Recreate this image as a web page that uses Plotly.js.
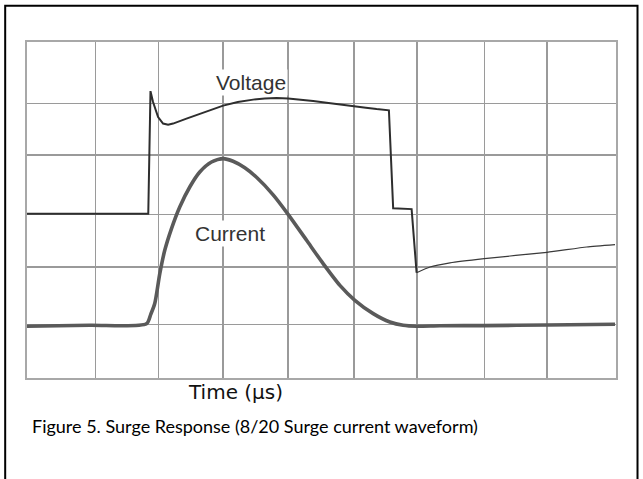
<!DOCTYPE html>
<html>
<head>
<meta charset="utf-8">
<script src="https://cdn.plot.ly/plotly-3.0.1.min.js"></script>
<style>
html,body{margin:0;padding:0;background:#fff;}
#chart{width:643px;height:479px;}
</style>
</head>
<body>
<div id="chart"></div>
<script>
// Grid positions (in divisions) as read from the scope graticule
const xGrid = [0, 1.046, 2.013, 2.997, 3.990, 4.995, 5.958, 6.987, 7.945, 9];
const yGrid = [0, 0.959, 1.982, 2.923, 3.982, 4.900, 6];

// Voltage trace (divisions)
const voltTime = [0, 1.853, 1.887, 1.926, 2.003, 2.079, 2.156, 2.232, 2.437, 2.640, 2.824, 2.997, 3.221, 3.455, 3.634, 3.813, 3.990, 4.169, 4.373, 4.577, 4.780, 4.984, 5.178, 5.342, 5.530, 5.595, 5.877, 5.953];
const voltVal  = [2.932, 2.932, 5.123, 4.929, 4.661, 4.543, 4.521, 4.543, 4.632, 4.718, 4.798, 4.864, 4.927, 4.971, 4.991, 4.998, 4.991, 4.973, 4.945, 4.917, 4.890, 4.863, 4.827, 4.802, 4.780, 3.030, 3.016, 1.879];

// Voltage recovery tail (thin line)
const tailTime = [5.953, 6.157, 6.463, 6.987, 7.945, 8.552, 8.985];
const tailVal  = [1.879, 1.982, 2.057, 2.132, 2.245, 2.339, 2.382];

// Current trace (divisions)
const currTime = [0, 0.959, 1.825, 1.891, 1.952, 2.029, 2.105, 2.208, 2.334, 2.487, 2.640, 2.819, 2.997, 3.149, 3.328, 3.507, 3.761, 3.990, 4.272, 4.525, 4.781, 5.010, 5.290, 5.545, 5.748, 5.953, 6.309, 6.987, 7.945, 8.985];
const currVal  = [0.923, 0.941, 0.968, 1.137, 1.329, 1.864, 2.280, 2.668, 3.054, 3.411, 3.679, 3.857, 3.918, 3.870, 3.754, 3.584, 3.271, 2.923, 2.459, 2.043, 1.655, 1.388, 1.150, 1.000, 0.941, 0.923, 0.932, 0.936, 0.946, 0.959];

const labels = {voltage: 'Voltage', current: 'Current', xTitle: 'Time (µs)', caption: 'Figure 5. Surge Response (8/20 Surge current waveform)'};

const L = 27.3, R = 27, T = 41.7, B = 101.3;
const W = 643, H = 479;
const pw = W - L - R, ph = H - T - B;
const px2paper = p => (p - L) / pw;
const py2paper = p => (H - B - p) / ph;

const traces = [
  {x: currTime, y: currVal, mode: 'lines', line: {color: '#5a5a5a', width: 3.6, shape: 'spline', smoothing: 0.7}, hoverinfo: 'skip'},
  {x: voltTime, y: voltVal, mode: 'lines', line: {color: '#2e2e2e', width: 2}, hoverinfo: 'skip'},
  {x: tailTime, y: tailVal, mode: 'lines', line: {color: '#3a3a3a', width: 1.2, shape: 'spline', smoothing: 0.5}, hoverinfo: 'skip'}
];

const layout = {
  width: W, height: H,
  margin: {l: L, r: R, t: T, b: B, pad: 0},
  paper_bgcolor: '#fff', plot_bgcolor: '#fff',
  showlegend: false,
  xaxis: {range: [0, 9], tickvals: xGrid, showticklabels: false, ticks: '', showgrid: true, gridcolor: '#9a9a9a', gridwidth: 1.4, zeroline: false, showline: true, mirror: true, linecolor: '#a8a8a8', linewidth: 2},
  yaxis: {range: [0, 6], tickvals: yGrid, showticklabels: false, ticks: '', showgrid: true, gridcolor: '#9a9a9a', gridwidth: 1.4, zeroline: false, showline: true, mirror: true, linecolor: '#a8a8a8', linewidth: 2},
  annotations: [
    {x: 3.42, y: 5.28, xref: 'x', yref: 'y', text: labels.voltage, showarrow: false, font: {family: 'Liberation Sans, Arial', size: 21, color: '#333'}, bgcolor: '#fff', borderpad: 1},
    {x: 3.107, y: 2.584, xref: 'x', yref: 'y', text: labels.current, showarrow: false, font: {family: 'Liberation Sans, Arial', size: 21, color: '#333'}, bgcolor: '#fff', borderpad: 1},
    {x: px2paper(236), y: py2paper(392), xref: 'paper', yref: 'paper', text: labels.xTitle, showarrow: false, xanchor: 'center', yanchor: 'middle', font: {family: 'DejaVu Sans', size: 20, color: '#111'}},
    {x: px2paper(30), y: py2paper(426), xref: 'paper', yref: 'paper', text: labels.caption, showarrow: false, xanchor: 'left', yanchor: 'middle', font: {family: 'Lato', size: 18, color: '#000'}}
  ],
  shapes: [
    {type: 'rect', xref: 'paper', yref: 'paper', x0: px2paper(5.5), x1: px2paper(637.5), y0: py2paper(500), y1: py2paper(5.5), line: {color: '#000', width: 2}, fillcolor: 'rgba(0,0,0,0)', layer: 'above'}
  ]
};

Plotly.newPlot('chart', traces, layout, {staticPlot: true, displayModeBar: false});
</script>
</body>
</html>
